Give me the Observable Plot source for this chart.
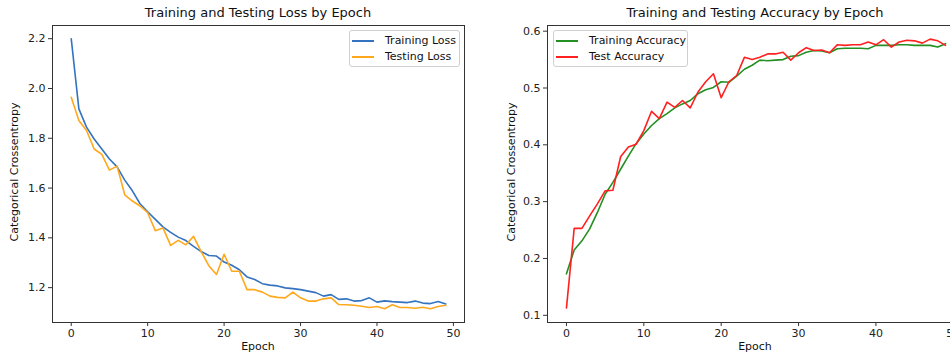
<!DOCTYPE html>
<html><head><meta charset="utf-8">
<script src="https://cdn.jsdelivr.net/npm/d3@7"></script>
<script src="https://cdn.jsdelivr.net/npm/@observablehq/plot@0.6"></script>
<style>
html,body{margin:0;padding:0;background:#fff;overflow:hidden}
#wrap{position:relative;width:950px;height:358px;overflow:hidden;font-family:"DejaVu Sans",sans-serif;color:#111}
.pl{position:absolute;top:0}
.title{position:absolute;top:5px;font-size:13px;transform:translateX(-50%);white-space:nowrap;line-height:15px}
.xl{position:absolute;top:340px;font-size:11px;transform:translateX(-50%);line-height:13px}
.yl{position:absolute;top:172px;font-size:11px;white-space:nowrap;line-height:13px;transform:translate(-50%,-50%) rotate(-90deg)}
.legend{position:absolute;top:30px;height:35px;background:rgba(255,255,255,0.8);border:1px solid #d0d0d0;border-radius:3px;font-size:11px}
.li{position:absolute;left:0;height:14px;width:100%}
.li span.ln{position:absolute;left:2px;top:6px;height:1.5px}
.li span.tx{position:absolute;left:35px;top:0;line-height:13px;white-space:nowrap}
</style>
</head><body>
<div id="wrap"></div>
<script>
const epochs = d3.range(0, 50);
const trainLoss = [2.200,1.918,1.845,1.797,1.757,1.717,1.685,1.632,1.589,1.537,
  1.505,1.474,1.444,1.422,1.403,1.389,1.366,1.345,1.329,1.327,
  1.303,1.290,1.272,1.243,1.233,1.216,1.210,1.207,1.199,1.196,
  1.192,1.186,1.180,1.166,1.172,1.153,1.155,1.146,1.148,1.159,
  1.142,1.147,1.144,1.142,1.140,1.146,1.138,1.136,1.144,1.134];
const testLoss = [1.965,1.871,1.831,1.757,1.735,1.672,1.688,1.573,1.548,1.528,
  1.501,1.429,1.440,1.370,1.390,1.372,1.406,1.345,1.288,1.253,
  1.334,1.266,1.266,1.192,1.192,1.182,1.166,1.161,1.159,1.182,
  1.159,1.146,1.146,1.155,1.159,1.132,1.131,1.129,1.125,1.120,
  1.124,1.115,1.131,1.120,1.120,1.117,1.121,1.115,1.124,1.129];
const trainAcc = [0.173,0.215,0.231,0.252,0.281,0.313,0.334,0.357,0.380,0.402,
  0.419,0.434,0.446,0.455,0.465,0.472,0.478,0.490,0.497,0.501,
  0.511,0.510,0.521,0.533,0.540,0.549,0.548,0.549,0.550,0.556,
  0.557,0.563,0.566,0.565,0.562,0.569,0.570,0.570,0.570,0.569,
  0.575,0.575,0.575,0.576,0.576,0.575,0.575,0.575,0.572,0.578];
const testAcc = [0.113,0.253,0.253,0.275,0.296,0.319,0.320,0.379,0.396,0.401,
  0.425,0.459,0.446,0.475,0.466,0.478,0.465,0.493,0.511,0.525,
  0.483,0.511,0.522,0.554,0.550,0.554,0.560,0.560,0.563,0.549,
  0.562,0.571,0.566,0.567,0.562,0.576,0.575,0.576,0.576,0.581,
  0.576,0.585,0.572,0.581,0.584,0.583,0.579,0.586,0.583,0.575];
const epochTicks = [0, 10, 20, 30, 40, 50];
const lossTicks = [1.2, 1.4, 1.6, 1.8, 2.0, 2.2];
const accTicks = [0.1, 0.2, 0.3, 0.4, 0.5, 0.6];
const titles = ["Training and Testing Loss by Epoch", "Training and Testing Accuracy by Epoch"];
const xLabel = "Epoch";
const yLabel = "Categorical Crossentropy";
const lossNames = ["Training Loss", "Testing Loss"];
const accNames = ["Training Accuracy", "Test Accuracy"];
const colors = {trainLoss: "#3473bf", testLoss: "#ffa81c", trainAcc: "#229022", testAcc: "#ff2020"};

const lossRows = epochs.map((e, i) => ({epoch: e, train: trainLoss[i], test: testLoss[i]}));
const accRows = epochs.map((e, i) => ({epoch: e, train: trainAcc[i], test: testAcc[i]}));

const wrap = document.getElementById("wrap");

function makePlot({rows, width, ml, mr, yDomain, xDomain, yTicks, cTrain, cTest}) {
  return Plot.plot({
    width, height: 358,
    marginLeft: ml, marginRight: mr, marginTop: 25, marginBottom: 36,
    style: {fontFamily: "DejaVu Sans, sans-serif", fontSize: "11px", color: "#222", background: "transparent", overflow: "visible"},
    x: {domain: xDomain},
    y: {domain: yDomain},
    marks: [
      Plot.line(rows, {x: "epoch", y: "train", stroke: cTrain, strokeWidth: 1.6}),
      Plot.line(rows, {x: "epoch", y: "test", stroke: cTest, strokeWidth: 1.6}),
      Plot.frame({stroke: "#333", strokeWidth: 1}),
      Plot.axisX({ticks: epochTicks, tickSize: 4, tickPadding: 3, tickFormat: d => d, label: null, stroke: "#333"}),
      Plot.axisY({ticks: yTicks, tickSize: 4, tickPadding: 3, tickFormat: d3.format(".1f"), label: null, stroke: "#333"})
    ]
  });
}

const p1 = makePlot({rows: lossRows, width: 480, ml: 52, mr: 16, yDomain: [1.06, 2.253], xDomain: [-2.45, 51.45], yTicks: lossTicks, cTrain: colors.trainLoss, cTest: colors.testLoss});
p1.classList.add("pl"); p1.style.left = "0px";
wrap.appendChild(p1);

const p2 = makePlot({rows: accRows, width: 490, ml: 67, mr: 6, yDomain: [0.0873, 0.610], xDomain: [-2.45, 51.45], yTicks: accTicks, cTrain: colors.trainAcc, cTest: colors.testAcc});
p2.classList.add("pl"); p2.style.left = "480px";
wrap.appendChild(p2);

function addDiv(cls, text, left, top) {
  const d = document.createElement("div");
  d.className = cls; d.textContent = text; d.style.left = left + "px";
  if (top != null) d.style.top = top + "px";
  wrap.appendChild(d);
  return d;
}
addDiv("title", titles[0], 258);
addDiv("title", titles[1], 755);
addDiv("xl", xLabel, 258);
addDiv("xl", xLabel, 755);
addDiv("yl", yLabel, 14);
addDiv("yl", yLabel, 511);

function addLegend(left, width, names, cols, lineW) {
  const lg = document.createElement("div");
  lg.className = "legend";
  lg.style.left = left + "px"; lg.style.width = width + "px";
  names.forEach((n, i) => {
    const it = document.createElement("div");
    it.className = "li"; it.style.top = (3 + i * 16) + "px";
    const ln = document.createElement("span"); ln.className = "ln";
    ln.style.width = lineW + "px"; ln.style.background = cols[i];
    const tx = document.createElement("span"); tx.className = "tx"; tx.textContent = n;
    it.appendChild(ln); it.appendChild(tx); lg.appendChild(it);
  });
  wrap.appendChild(lg);
}
addLegend(349, 109, lossNames, [colors.trainLoss, colors.testLoss], 22);
addLegend(553, 133, accNames, [colors.trainAcc, colors.testAcc], 22);
</script>
</body></html>
